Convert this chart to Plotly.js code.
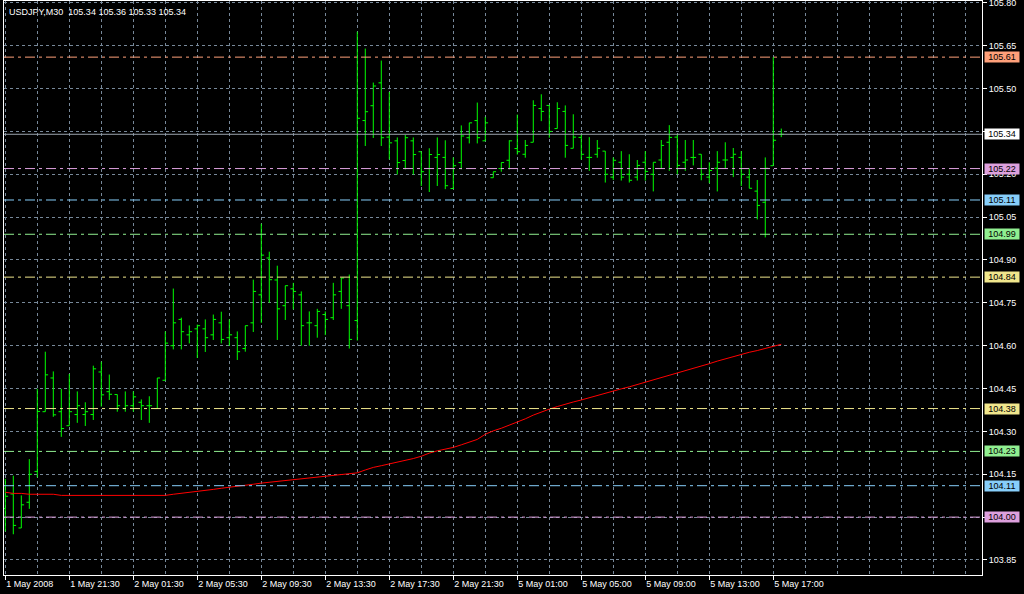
<!DOCTYPE html>
<html>
<head>
<meta charset="utf-8">
<script src="https://cdn.plot.ly/plotly-3.0.1.min.js"></script>
<style>
html,body{margin:0;padding:0;background:#000;}
#chart{width:1024px;height:594px;}
</style>
</head>
<body>
<div id="chart"></div>
<script>
// ---- data ----
const symbolTitle = "USDJPY,M30  105.34 105.36 105.33 105.34";
const barIndex = Array.from({length: 98}, (_, i) => i);
const openP = [104.03,104.081,103.962,104.052,104.160,104.369,104.487,104.369,104.320,104.359,
104.359,104.359,104.508,104.439,104.429,104.380,104.39,104.402,104.390,104.380,
104.479,104.600,104.692,104.638,104.659,104.659,104.638,104.680,104.628,104.628,
104.590,104.680,104.778,104.907,104.830,104.740,104.799,104.778,104.680,104.670,
104.709,104.698,104.790,104.740,104.688,105.388,105.440,105.520,105.330,105.317,
105.248,105.317,105.279,105.220,105.259,105.259,105.150,105.241,105.328,105.388,
105.317,105.188,105.220,105.249,105.290,105.270,105.312,105.430,105.441,105.360,
105.420,105.291,105.329,105.259,105.270,105.281,105.190,105.242,105.200,105.190,
105.242,105.200,105.250,105.312,105.33,105.242,105.259,105.270,105.190,105.221,
105.250,105.259,105.259,105.190,105.141,105.102,105.230,105.34];
const highP = [104.134,104.145,104.076,104.203,104.449,104.579,104.510,104.449,104.501,104.440,
104.402,104.530,104.544,104.499,104.429,104.440,104.440,104.412,104.423,104.487,
104.650,104.800,104.698,104.671,104.674,104.692,104.709,104.719,104.692,104.650,
104.670,104.831,105.027,104.929,104.880,104.810,104.820,104.790,104.720,104.729,
104.720,104.820,104.837,104.849,105.699,105.640,105.521,105.598,105.488,105.329,
105.338,105.329,105.279,105.291,105.329,105.319,105.259,105.371,105.380,105.451,
105.401,105.209,105.241,105.319,105.409,105.320,105.459,105.480,105.441,105.452,
105.441,105.410,105.341,105.330,105.320,105.281,105.259,105.281,105.270,105.250,
105.281,105.242,105.320,105.372,105.341,105.320,105.320,105.270,105.242,105.281,
105.312,105.292,105.281,105.221,105.180,105.259,105.610,105.36];
const lowP = [103.950,103.940,103.962,104.029,104.139,104.369,104.351,104.281,104.320,104.330,
104.319,104.340,104.387,104.410,104.369,104.369,104.369,104.340,104.330,104.380,
104.479,104.587,104.587,104.608,104.557,104.578,104.620,104.608,104.599,104.550,
104.579,104.648,104.680,104.750,104.620,104.690,104.727,104.600,104.600,104.628,
104.637,104.690,104.729,104.590,104.618,105.299,105.327,105.299,105.252,105.199,
105.217,105.199,105.159,105.138,105.159,105.148,105.148,105.217,105.308,105.308,
105.317,105.188,105.209,105.217,105.269,105.258,105.312,105.386,105.328,105.360,
105.258,105.291,105.251,105.212,105.258,105.171,105.180,105.178,105.171,105.178,
105.178,105.140,105.219,105.212,105.200,105.212,105.231,105.179,105.169,105.140,
105.219,105.190,105.159,105.151,105.042,104.979,105.230,105.33];
const closeP = [104.073,103.971,104.043,104.150,104.37,104.498,104.358,104.310,104.369,104.390,
104.369,104.519,104.428,104.43,104.390,104.390,104.421,104.39,104.390,104.487,
104.609,104.680,104.649,104.649,104.670,104.628,104.692,104.622,104.638,104.579,
104.670,104.790,104.917,104.831,104.729,104.810,104.790,104.670,104.680,104.720,
104.692,104.778,104.837,104.622,105.396,105.419,105.509,105.328,105.310,105.241,
105.328,105.269,105.209,105.269,105.269,105.160,105.230,105.334,105.380,105.328,
105.380,105.209,105.241,105.317,105.279,105.301,105.441,105.420,105.350,105.430,
105.301,105.33,105.270,105.259,105.291,105.200,105.249,105.190,105.179,105.231,
105.210,105.242,105.301,105.329,105.231,105.250,105.259,105.200,105.213,105.242,
105.250,105.270,105.200,105.151,105.091,105.221,105.319,105.34];
const maValues = [104.087,104.083,104.083,104.080,104.080,104.080,104.080,104.076,104.076,104.076,
104.076,104.076,104.076,104.076,104.076,104.076,104.076,104.076,104.076,104.076,
104.076,104.080,104.083,104.087,104.090,104.094,104.097,104.101,104.104,104.107,
104.111,104.115,104.119,104.122,104.125,104.128,104.131,104.134,104.138,104.141,
104.144,104.147,104.150,104.151,104.155,104.165,104.174,104.180,104.186,104.193,
104.199,104.205,104.213,104.224,104.232,104.238,104.244,104.253,104.263,104.272,
104.290,104.302,104.311,104.322,104.332,104.344,104.357,104.368,104.378,104.387,
104.396,104.403,104.410,104.418,104.427,104.434,104.441,104.449,104.456,104.464,
104.472,104.480,104.487,104.495,104.503,104.511,104.520,104.528,104.537,104.546,
104.554,104.563,104.570,104.577,104.583,104.590,104.597,104.605];
const levelValues = [105.61, 105.22, 105.11, 104.99, 104.84, 104.38, 104.23, 104.11, 104.00];
const tickBars = [0, 8, 16, 24, 32, 40, 48, 56, 64, 72, 80, 88, 96];
const tickLabels = ["1 May 2008","1 May 21:30","2 May 01:30","2 May 05:30","2 May 09:30",
  "2 May 13:30","2 May 17:30","2 May 21:30","5 May 01:00","5 May 05:00","5 May 09:00",
  "5 May 13:00","5 May 17:00"];

// ---- styles ----
const levelColors = ['#FFA07A','#DDA0DD','#87CEFA','#90EE90','#F0E68C','#F0E68C','#90EE90','#87CEFA','#DDA0DD'];
const gridColor = '#778899';
const barColor = '#00FF00';
const FONT = 'Liberation Sans, Arial, sans-serif';
const lastPrice = closeP[closeP.length - 1];

const traces = [
  {
    type: 'ohlc', x: barIndex, open: openP, high: highP, low: lowP, close: closeP,
    increasing: {line: {color: barColor, width: 1}},
    decreasing: {line: {color: barColor, width: 1}},
    tickwidth: 0.35, hoverinfo: 'skip', showlegend: false
  },
  {
    type: 'scatter', mode: 'lines', x: barIndex, y: maValues,
    line: {color: '#FF0000', width: 1}, hoverinfo: 'skip', showlegend: false
  }
];

const shapes = [];
const annotations = [];
levelValues.forEach((v, k) => {
  shapes.push({type: 'line', xref: 'paper', x0: 0, x1: 1, yref: 'y', y0: v, y1: v,
    line: {color: levelColors[k], width: 1, dash: '10px,4px,3px,4px'}, layer: 'above'});
  annotations.push({xref: 'paper', x: 1, xanchor: 'left', xshift: 2, yref: 'y', y: v, yanchor: 'middle',
    text: v.toFixed(2), showarrow: false, bgcolor: levelColors[k], borderpad: 0, width: 34, height: 10,
    font: {family: FONT, size: 9, color: '#000'}});
});
shapes.push({type: 'line', xref: 'paper', x0: 0, x1: 1, yref: 'y', y0: lastPrice, y1: lastPrice,
  line: {color: '#9AA3AD', width: 1}, layer: 'above'});
annotations.push({xref: 'paper', x: 1, xanchor: 'left', xshift: 2, yref: 'y', y: lastPrice, yanchor: 'middle',
  text: lastPrice.toFixed(2), showarrow: false, bgcolor: '#FFFFFF', borderpad: 0, width: 34, height: 10,
  font: {family: FONT, size: 9, color: '#000'}});
annotations.push({xref: 'paper', yref: 'paper', x: 0, y: 1, xanchor: 'left', yanchor: 'top',
  xshift: 3, yshift: -4, text: symbolTitle, showarrow: false,
  font: {family: FONT, size: 9, color: '#FFFFFF'}});

const layout = {
  width: 1024, height: 594,
  paper_bgcolor: '#000000', plot_bgcolor: '#000000',
  margin: {l: 4, r: 42, t: 1, b: 19},
  showlegend: false,
  dragmode: false,
  font: {family: FONT, size: 9, color: '#FFFFFF'},
  xaxis: {
    range: [-0.1625, 122.09],
    tickmode: 'array', tickvals: tickBars, ticktext: tickLabels,
    ticks: 'outside', ticklen: 4, tickcolor: '#FFFFFF',
    ticklabelposition: 'outside right',
    tickfont: {family: FONT, size: 9, color: '#FFFFFF'},
    showgrid: true, gridcolor: gridColor, griddash: '3px,3px', gridwidth: 1,
    minor: {tickmode: 'linear', tick0: 0, dtick: 4, showgrid: true, gridcolor: gridColor,
            griddash: '3px,3px', gridwidth: 1, ticks: ''},
    showline: true, linecolor: '#FFFFFF', linewidth: 1, mirror: true,
    zeroline: false, rangeslider: {visible: false}, fixedrange: true
  },
  yaxis: {
    side: 'right',
    range: [103.7974, 105.8065],
    tickmode: 'linear', tick0: 103.85, dtick: 0.15, tickformat: '.2f',
    ticks: 'outside', ticklen: 4, tickcolor: '#FFFFFF',
    ticklabeloverflow: 'allow',
    tickfont: {family: FONT, size: 9, color: '#FFFFFF'},
    showgrid: true, gridcolor: gridColor, griddash: '3px,3px', gridwidth: 1,
    showline: true, linecolor: '#FFFFFF', linewidth: 1, mirror: true,
    zeroline: false, fixedrange: true
  },
  shapes: shapes,
  annotations: annotations
};

Plotly.newPlot('chart', traces, layout, {staticPlot: true, displayModeBar: false});
</script>
</body>
</html>
